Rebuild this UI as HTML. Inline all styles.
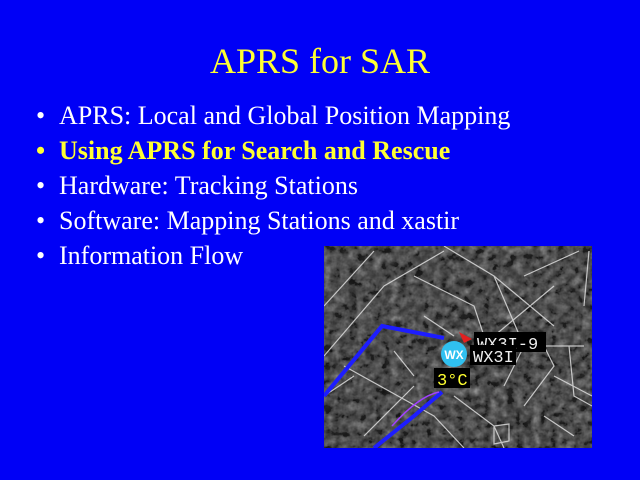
<!DOCTYPE html>
<html><head><style>
body{margin:0;width:640px;height:480px;background:#0000f6;overflow:hidden;position:relative;font-family:"Liberation Serif",serif}
.t{position:absolute;left:0;width:640px;text-align:center;top:40px;font-size:36px;color:#ffff33}
.b{position:absolute;left:36px;font-size:26px;color:#fff;white-space:nowrap;line-height:30px}
.b span{position:absolute;left:23px}
.y{color:#ffff33;font-weight:bold}
svg{position:absolute;left:324px;top:246px}
</style></head><body>
<div class="t">APRS for SAR</div>
<div class="b" style="top:101px">•<span>APRS: Local and Global Position Mapping</span></div>
<div class="b y" style="top:136px">•<span>Using APRS for Search and Rescue</span></div>
<div class="b" style="top:171px">•<span>Hardware: Tracking Stations</span></div>
<div class="b" style="top:206px">•<span>Software: Mapping Stations and xastir</span></div>
<div class="b" style="top:241px">•<span>Information Flow</span></div>
<svg width="268" height="202" viewBox="0 0 268 202">
<defs><filter id="n"><feTurbulence type="fractalNoise" baseFrequency="0.12" numOctaves="3" seed="3"/><feColorMatrix type="saturate" values="0"/><feComponentTransfer><feFuncR type="linear" slope="1.6" intercept="-0.55"/><feFuncG type="linear" slope="1.6" intercept="-0.55"/><feFuncB type="linear" slope="1.6" intercept="-0.55"/></feComponentTransfer></filter></defs>
<rect width="268" height="202" fill="#2e2e2e"/>
<rect width="268" height="202" filter="url(#n)" opacity="0.7"/>
<g stroke="#ddd" stroke-width="1.2" fill="none" opacity="0.85">
<path d="M0 60 L50 5"/><path d="M0 110 L60 40 L120 5"/><path d="M120 0 L170 30 L230 80"/><path d="M170 30 L200 100 L180 140"/><path d="M90 30 L150 60 L160 90"/><path d="M100 70 L130 90"/><path d="M200 30 L255 5"/><path d="M170 90 L230 40"/><path d="M200 100 L260 100"/><path d="M215 90 L230 120 L200 160"/><path d="M20 120 L110 170 L140 202"/><path d="M0 150 L30 130"/><path d="M40 190 L90 140"/><path d="M130 150 L170 180 L180 202"/><path d="M220 170 L250 190"/><path d="M245 100 L250 150 L268 160"/><path d="M170 180 L185 178 L185 195 L170 198 Z"/><path d="M70 105 L90 130"/><path d="M230 130 L268 150"/><path d="M265 5 L260 60"/></g>
<polyline points="0,150 58,80 120,92" fill="none" stroke="#1d1dff" stroke-width="4"/>
<polyline points="50,202 90,170 118,146" fill="none" stroke="#1d1dff" stroke-width="4"/>
<path d="M68 180 Q95 150 115 146" stroke="#a040ff" fill="none" stroke-width="1.5"/>
<path d="M135 86 L148 93 L140 97 Z" fill="#e02020"/>
<rect x="150" y="86" width="72" height="20" fill="#000"/>
<text x="153" y="103" font-family="Liberation Mono,monospace" font-size="17" fill="#eee">WX3I-9</text>
<rect x="146" y="99" width="46" height="20" fill="#000"/>
<text x="149" y="116" font-family="Liberation Mono,monospace" font-size="17" fill="#eee">WX3I</text>
<circle cx="130" cy="108" r="13" fill="#30c0f0"/>
<text x="130" y="113" text-anchor="middle" font-family="Liberation Sans,sans-serif" font-weight="bold" font-size="12" fill="#fff">WX</text>
<rect x="110" y="122" width="36" height="20" fill="#000"/>
<text x="113" y="139" font-family="Liberation Mono,monospace" font-size="17" fill="#ffff30">3°C</text>
</svg>
</body></html>
